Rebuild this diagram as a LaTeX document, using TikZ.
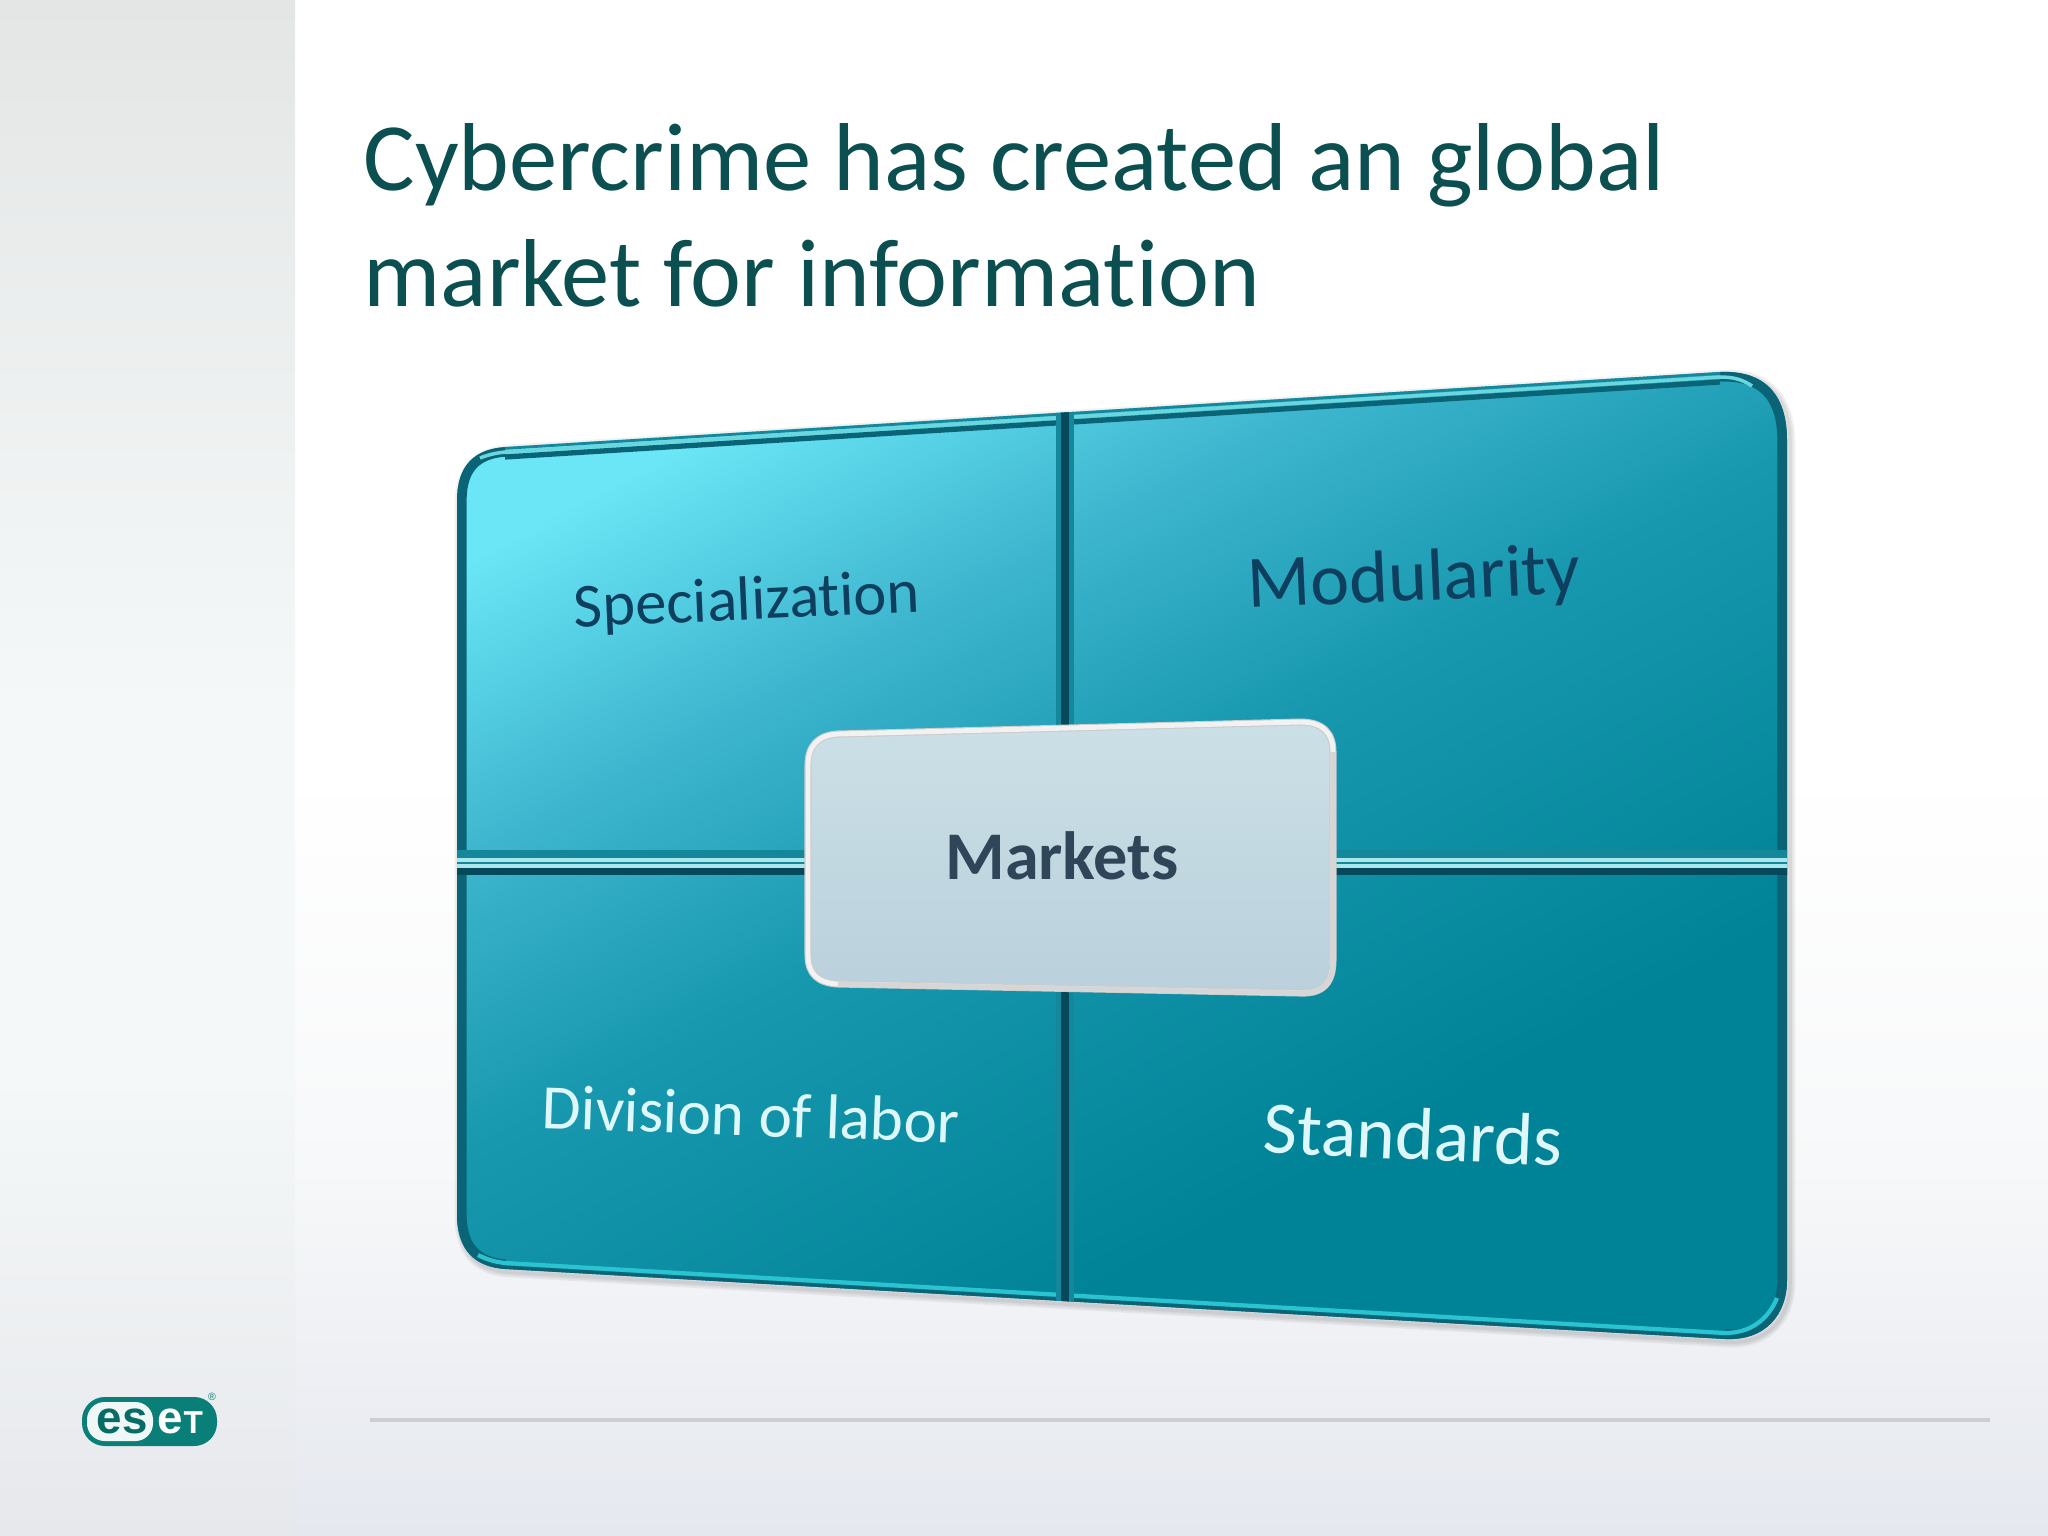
\documentclass[tikz,border=0pt]{standalone}
\usepackage{fontspec}
\setmainfont[Ligatures=NoCommon]{Carlito}
\newfontfamily\logofont{Liberation Sans}
\usepackage{xcolor}

\definecolor{titlegreen}{HTML}{0B4F50}
\definecolor{bevelDark}{HTML}{0B6476}
\definecolor{bevelBright}{HTML}{2AC4D0}
\definecolor{barTeal}{HTML}{14879B}
\definecolor{barDark}{HTML}{07495C}
\definecolor{labelDark}{HTML}{0E3F5E}
\definecolor{labelLight}{HTML}{DDF7FA}
\definecolor{marketText}{HTML}{2E4658}
\definecolor{ruleGray}{HTML}{CDCED0}
\definecolor{logoTeal}{HTML}{0A7F78}
\definecolor{bodyA}{HTML}{6AE6F6}
\definecolor{bodyM}{HTML}{3DB5CE}
\definecolor{bodyB}{HTML}{1798AE}
\definecolor{bodyC}{HTML}{008297}
\definecolor{marketA}{HTML}{CBE0E6}
\definecolor{marketB}{HTML}{BAD0DC}
\definecolor{stripA}{HTML}{E4E6E6}
\definecolor{stripB}{HTML}{F5F8F8}
\definecolor{stripC}{HTML}{E6E8EC}
\definecolor{pageB}{HTML}{F7F8F9}
\definecolor{pageC}{HTML}{E5E8EF}

\pgfdeclareverticalshading{stripshade}{100bp}{color(0bp)=(stripC); color(25bp)=(stripC); color(40bp)=(stripB); color(52bp)=(stripB); color(75bp)=(stripA); color(100bp)=(stripA)}
\pgfdeclareverticalshading{pageshade}{100bp}{color(0bp)=(pageC); color(25bp)=(pageC); color(37bp)=(pageB); color(50bp)=(white); color(100bp)=(white)}
\pgfdeclareverticalshading{bodyshade}{100bp}{color(0bp)=(bodyC); color(33bp)=(bodyC); color(52bp)=(bodyB); color(64bp)=(bodyM); color(76bp)=(bodyA); color(100bp)=(bodyA)}
\pgfdeclareverticalshading{marketshade}{100bp}{color(0bp)=(marketB); color(25bp)=(marketB); color(75bp)=(marketA); color(100bp)=(marketA)}

\newcommand{\bodyoutline}{(457,500) .. controls (457,465) and (475,449) .. (505,447) -- (1720,372) .. controls (1765,370) and (1787,395) .. (1787,440) -- (1787,1280) .. controls (1787,1315) and (1765,1341) .. (1725,1339) -- (505,1269) .. controls (475,1267) and (457,1250) .. (457,1215) -- cycle}
\newcommand{\marketoutline}{(808,765) .. controls (808,746) and (818,735) .. (838,734) -- (1300,722) .. controls (1323,722) and (1333,733) .. (1333,752) -- (1333,960) .. controls (1333,983) and (1323,994) .. (1300,993) -- (838,984) .. controls (818,983) and (808,974) .. (808,955) -- cycle}

\tikzset{
	titletext/.style={anchor=base west,inner sep=0pt,text=titlegreen,font=\fontsize{27.45}{33}\selectfont},
	labeltext/.style={anchor=center,inner sep=0pt},
	logotext/.style={anchor=base west,inner sep=0pt}
}

\begin{document}
\begin{tikzpicture}[x=0.01cm,y=-0.01cm]
	\useasboundingbox (0,0) rectangle (2048,1536);
	\shade[shading=pageshade] (295,0) rectangle (2048,1536);
	\shade[shading=stripshade] (0,0) rectangle (295,1536);

	\node[titletext] (titleone) at (363,190) {Cybercrime has created an global};
	\node[titletext] (titletwo) at (363,306) {market for information};

	\foreach \off in {1,2,3}
		\draw[black,opacity=0.05,line width=\off pt,shift={(3,3)}] \bodyoutline;
	\shade[shading=bodyshade,shading angle=28] \bodyoutline;
	\begin{scope}
		\clip \bodyoutline;
		\draw[bevelDark,line width=5.5pt] (505,447) .. controls (475,449) and (457,465) .. (457,500) -- (457,1215) .. controls (457,1250) and (475,1267) .. (505,1269);
		\draw[bevelDark,line width=5.5pt] (1720,372) .. controls (1765,370) and (1787,395) .. (1787,440) -- (1787,1280) .. controls (1787,1315) and (1765,1341) .. (1725,1339);
		\draw[barTeal,line width=1pt] (505,448) -- (1720,373);
		\draw[bevelBright!70!white,line width=1pt] (480,458) .. controls (490,454) and (497,453) .. (505,452) -- (1720,377) .. controls (1732,377) and (1742,379) .. (1752,386);
		\draw[bevelDark,line width=1.5pt] (505,457) -- (1720,382);
		\draw[bevelDark,line width=2pt] (505,1269) -- (1725,1339);
		\draw[bevelBright,line width=1.2pt] (478,1255) .. controls (488,1260) and (496,1262) .. (505,1263) -- (1725,1333) .. controls (1750,1333) and (1768,1320) .. (1777,1298);
		\draw[barTeal,line width=5pt] (1065,400) -- (1065,1310);
		\draw[barDark,line width=2pt] (1065,400) -- (1065,1310);
		\draw[barTeal,line width=2.8pt] (440,855) -- (1800,855);
		\draw[barDark,line width=2pt] (440,871) -- (1800,871);
		\draw[bevelBright!40!white,line width=0.9pt] (440,860) -- (1800,860);
		\draw[bevelBright!40!white,line width=0.9pt] (440,866) -- (1800,866);
		\draw[barTeal,line width=0.6pt] (440,863) -- (1800,863);
	\end{scope}

	\node[labeltext,text=labelDark,font=\fontsize{17.8}{18}\selectfont,rotate=2.5] (special) at (747,603) {Specialization};
	\node[labeltext,text=labelDark,font=\fontsize{21}{21}\selectfont,rotate=2.5] (modular) at (1414,581) {Modularity};
	\node[labeltext,text=labelLight,font=\fontsize{18}{18}\selectfont,rotate=-2] (division) at (751,1114) {Division of labor};
	\node[labeltext,text=labelLight,font=\fontsize{21.1}{21}\selectfont,rotate=-2.5] (standard) at (1413,1134) {Standards};

	\shade[shading=marketshade] \marketoutline;
	\draw[white!60!gray,line width=2pt] \marketoutline;
	\draw[white!90!gray,line width=1.4pt] \marketoutline;
	\draw[white!68!gray,line width=1.4pt] (1333,752) -- (1333,960) .. controls (1333,983) and (1323,994) .. (1300,993) -- (838,984);
	\node[labeltext,text=marketText,font=\bfseries\fontsize{19.4}{19}\selectfont] (market) at (1062,856) {Markets};

	\draw[ruleGray,line width=0.9pt] (370,1420) -- (1990,1420);

	\fill[logoTeal,rounded corners=6.5pt] (82,1397) rectangle (217,1446);
	\fill[white!94!logoTeal,rounded corners=5pt] (87,1402) -- (153,1402) -- (153,1441) -- (87,1441) -- cycle;
	\node[logotext,text=logoTeal!85!black,font=\logofont\bfseries\fontsize{13}{13}\selectfont] (logoes) at (96,1433) {es};
	\node[logotext,text=white,font=\logofont\bfseries\fontsize{13}{13}\selectfont] (logoe) at (157,1433) {e};
	\node[logotext,text=white,font=\logofont\bfseries\fontsize{9}{9}\selectfont] (logot) at (183,1433) {T};
	\node[anchor=center,inner sep=0pt,text=logoTeal,font=\logofont\fontsize{3}{3}\selectfont] (logoreg) at (212,1397) {®};
\end{tikzpicture}
\end{document}
